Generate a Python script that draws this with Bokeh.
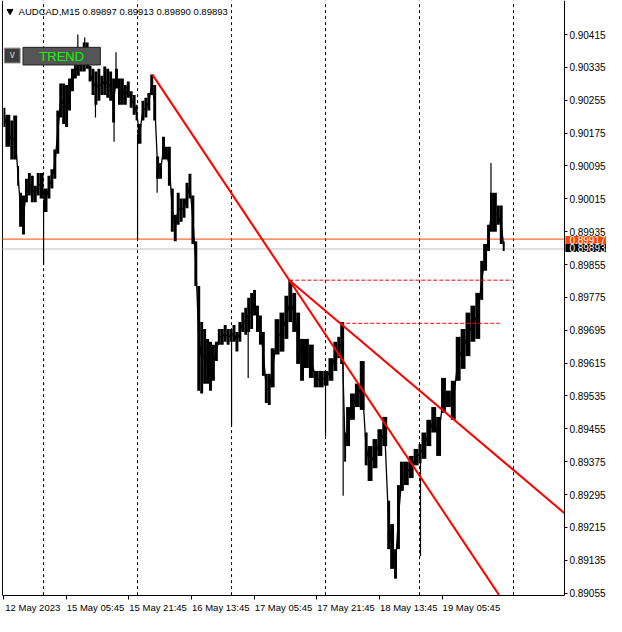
from bokeh.plotting import figure
from bokeh.models import Range1d, FixedTicker, Span, Label, ColumnDataSource, PrintfTickFormatter
from bokeh.embed import file_html
from bokeh.resources import INLINE
from bokeh.core.properties import value

# ---------------- data ----------------
symbol = "AUDCAD,M15"
last_ohlc = ["0.89897", "0.89913", "0.89890", "0.89893"]
ask_price = 0.89917
bid_price = 0.89893

# price range per small group of M15 bars (bar index 0 = 12 May 13:45)
bar_start = [
    0, 2, 7, 10, 14, 16, 19, 22, 25, 28,
    31, 34, 37, 41, 45, 48, 51, 54, 57, 60,
    63, 66, 69, 72, 75, 78, 81, 84, 87, 90,
    93, 96, 99, 102, 105, 108, 111, 114, 117, 120,
    123, 126, 129, 132, 135, 137, 141, 144, 147, 150,
    153, 156, 159, 162, 165, 168, 171, 174, 177, 180,
    183, 186, 189, 192, 195, 198, 201, 204, 207, 210,
    213, 216, 219, 222, 225, 228, 231, 234, 237, 240,
    243, 246, 249, 252, 255, 258, 261, 264, 267, 270,
    273, 277, 282, 287, 291, 295, 299, 303, 307, 312,
    317, 322, 327, 332, 337, 341, 344, 348, 350, 354,
    359, 364, 369, 372, 377, 382, 387, 392, 395, 399,
    402, 405, 409, 414, 419, 424, 427, 432, 437, 442,
    447, 452, 457, 462, 467, 472, 477, 482, 487, 490,
    494, 497, 500, 504, 507, 510,
]
last_bar = 512

bar_high = [
    0.90237, 0.90220, 0.90206, 0.90218, 0.90095, 0.90030, 0.90023, 0.90064, 0.90078, 0.90071,
    0.90047, 0.90078, 0.90078, 0.90040, 0.90071, 0.90087, 0.90135, 0.90230, 0.90296, 0.90296,
    0.90292, 0.90308, 0.90332, 0.90349, 0.90356, 0.90379, 0.90396, 0.90396, 0.90339, 0.90332,
    0.90325, 0.90332, 0.90315, 0.90337, 0.90332, 0.90325, 0.90308, 0.90332, 0.90308, 0.90308,
    0.90292, 0.90301, 0.90277, 0.90268, 0.90244, 0.90197, 0.90254, 0.90261, 0.90273, 0.90318,
    0.90292, 0.90118, 0.90102, 0.90166, 0.90142, 0.90142, 0.90040, 0.89976, 0.90030, 0.90016,
    0.90016, 0.90054, 0.90076, 0.90023, 0.89912, 0.89803, 0.89715, 0.89698, 0.89674, 0.89667,
    0.89660, 0.89667, 0.89698, 0.89698, 0.89708, 0.89698, 0.89698, 0.89708, 0.89691, 0.89715,
    0.89738, 0.89750, 0.89774, 0.89786, 0.89793, 0.89755, 0.89731, 0.89691, 0.89589, 0.89589,
    0.89651, 0.89722, 0.89738, 0.89779, 0.89817, 0.89786, 0.89738, 0.89674, 0.89674, 0.89660,
    0.89596, 0.89596, 0.89596, 0.89627, 0.89667, 0.89679, 0.89715, 0.89446, 0.89508, 0.89541,
    0.89565, 0.89620, 0.89446, 0.89413, 0.89430, 0.89454, 0.89484, 0.89280, 0.89223, 0.89162,
    0.89318, 0.89375, 0.89375, 0.89389, 0.89406, 0.89418, 0.89446, 0.89477, 0.89508, 0.89484,
    0.89579, 0.89548, 0.89572, 0.89679, 0.89698, 0.89738, 0.89755, 0.89786, 0.89864, 0.89905,
    0.89952, 0.90030, 0.90030, 0.89999, 0.89999, 0.89912,
]

bar_low = [
    0.90190, 0.90142, 0.90111, 0.90111, 0.90047, 0.89947, 0.89928, 0.90007, 0.90023, 0.90007,
    0.90007, 0.90023, 0.90016, 0.89983, 0.90016, 0.90040, 0.90064, 0.90125, 0.90213, 0.90197,
    0.90190, 0.90230, 0.90277, 0.90308, 0.90315, 0.90325, 0.90325, 0.90332, 0.90301, 0.90268,
    0.90244, 0.90254, 0.90268, 0.90268, 0.90261, 0.90254, 0.90201, 0.90284, 0.90244, 0.90244,
    0.90244, 0.90261, 0.90237, 0.90220, 0.90206, 0.90149, 0.90206, 0.90213, 0.90230, 0.90268,
    0.90206, 0.90064, 0.90064, 0.90111, 0.90111, 0.90047, 0.89935, 0.89912, 0.89952, 0.89959,
    0.89969, 0.89992, 0.90016, 0.89905, 0.89803, 0.89548, 0.89541, 0.89565, 0.89565, 0.89548,
    0.89572, 0.89620, 0.89660, 0.89660, 0.89667, 0.89660, 0.89667, 0.89667, 0.89643, 0.89667,
    0.89691, 0.89684, 0.89691, 0.89698, 0.89731, 0.89691, 0.89660, 0.89584, 0.89518, 0.89513,
    0.89556, 0.89636, 0.89643, 0.89674, 0.89715, 0.89691, 0.89613, 0.89572, 0.89603, 0.89579,
    0.89556, 0.89556, 0.89560, 0.89572, 0.89596, 0.89627, 0.89613, 0.89375, 0.89413, 0.89477,
    0.89508, 0.89501, 0.89366, 0.89328, 0.89359, 0.89389, 0.89413, 0.89162, 0.89114, 0.89090,
    0.89162, 0.89304, 0.89318, 0.89335, 0.89366, 0.89371, 0.89382, 0.89413, 0.89446, 0.89389,
    0.89494, 0.89508, 0.89477, 0.89572, 0.89601, 0.89632, 0.89667, 0.89674, 0.89769, 0.89840,
    0.89888, 0.89935, 0.89935, 0.89952, 0.89905, 0.89888,
]

# single long wicks
spike_bar = [41, 76, 83, 94, 113, 115, 137, 157, 233, 250, 329, 347, 426, 498]
spike_price = [0.89857, 0.90415, 0.90408, 0.90213, 0.90154, 0.90372, 0.89916, 0.90030,
               0.89463, 0.89579, 0.89437, 0.89292, 0.89145, 0.90102]

# day separators (bar index)
day_sep_bar = [41, 137, 233, 329, 425, 521]

time_tick_bar = [0, 64, 128, 192, 256, 320, 384, 448]
time_tick_label = ["12 May 2023", "15 May 05:45", "15 May 21:45", "16 May 13:45",
                   "17 May 05:45", "17 May 21:45", "18 May 13:45", "19 May 05:45"]

price_ticks = [0.90415, 0.90335, 0.90255, 0.90175, 0.90095, 0.90015, 0.89935, 0.89855,
               0.89775, 0.89695, 0.89615, 0.89535, 0.89455, 0.89375, 0.89295, 0.89215,
               0.89135, 0.89055]

# trend lines (two anchor points each, drawn as rays)
trend_a_bar = [152, 292]
trend_a_price = [0.90318, 0.89817]
trend_b_bar = [292, 344]
trend_b_price = [0.89817, 0.89712]

# dashed horizontal levels
level_start_bar = [292, 344]
level_end_bar = [520, 507]
level_price = [0.89817, 0.89712]

# ---------------- figure ----------------
# chart area: bars -1 .. 573, prices 0.89050 .. 0.90498; the price and time
# scales are drawn by fixed-location axes on the edges of that area
CX0, CX1 = -1, 573
CY0, CY1 = 0.89050, 0.90498
AXFONT = "Liberation Sans"

p = figure(width=606, height=616, output_backend="svg", toolbar_location=None,
           x_range=Range1d(-3, 616), y_range=Range1d(0.88998, CY1),
           y_axis_location="right", min_border=0)
p.background_fill_color = "white"
p.border_fill_color = "white"
p.outline_line_color = None
p.grid.visible = False

ax = p.yaxis[0]
ax.fixed_location = CX1
ax.bounds = (CY0, CY1)
ax.ticker = FixedTicker(ticks=price_ticks)
ax.formatter = PrintfTickFormatter(format="%.5f")
ax.major_tick_out = 3
ax.major_tick_in = 0
ax.minor_tick_out = 0
ax.minor_tick_in = 0
ax.major_label_standoff = 2
ax.axis_line_color = "black"
ax.major_tick_line_color = "black"
ax.major_label_text_font = AXFONT
ax.major_label_text_font_size = "10px"
ax.major_label_text_color = "black"

# bottom time scale: labels written just right of their tick marks
LABEL_SHIFT = 30  # bars between a tick mark and the centre of its label
bx = p.xaxis[0]
bx.fixed_location = CY0
bx.bounds = (CX0, CX1)
bx.ticker = FixedTicker(ticks=[b + LABEL_SHIFT for b in time_tick_bar],
                        minor_ticks=time_tick_bar)
bx.major_label_overrides = {b + LABEL_SHIFT: t for b, t in zip(time_tick_bar, time_tick_label)}
bx.major_tick_out = 0
bx.major_tick_in = 0
bx.minor_tick_out = 4
bx.minor_tick_in = 0
bx.minor_tick_line_color = "black"
bx.major_label_standoff = 3
bx.axis_line_color = "black"
bx.major_label_text_font = AXFONT
bx.major_label_text_font_size = "9.5px"
bx.major_label_text_color = "black"

# left frame edge and day separators
p.segment(x0=[CX0], y0=[CY0], x1=[CX0], y1=[CY1], line_color="black", line_width=1)
p.segment(x0=day_sep_bar, y0=[CY0] * len(day_sep_bar), x1=day_sep_bar,
          y1=[CY1] * len(day_sep_bar), line_color="black", line_dash="3 3", line_width=1)

# ask / bid lines
p.segment(x0=[CX0, CX0], y0=[ask_price, bid_price], x1=[CX1, CX1], y1=[ask_price, bid_price],
          line_color=["#FF4500", "#C0C0C0"], line_width=1)

# price bars
right = bar_start[1:] + [last_bar]
src = ColumnDataSource(dict(left=bar_start, right=right, top=bar_high, bottom=bar_low,
                            xm=[(a + b) / 2 for a, b in zip(bar_start, right)],
                            ym=[(h + l) / 2 for h, l in zip(bar_high, bar_low)]))
p.quad(left="left", right="right", top="top", bottom="bottom", source=src,
       fill_color="black", line_color=None)
p.line(x="xm", y="ym", source=src, line_color="black", line_width=1.3)

# wicks
sx0, sy0 = [], []
for b, pr in zip(spike_bar, spike_price):
    i = max(k for k, s in enumerate(bar_start) if s <= b)
    sy0.append((bar_high[i] + bar_low[i]) / 2)
    sx0.append(b)
p.segment(x0=sx0, y0=sy0, x1=spike_bar, y1=spike_price, line_color="black", line_width=1.2)

# dashed levels
p.segment(x0=level_start_bar, y0=level_price, x1=level_end_bar, y1=level_price,
          line_color="#FF0000", line_width=1, line_dash="4 2")

# trend rays, cut at the edges of the chart area
def ray(bars, prices):
    slope = (prices[1] - prices[0]) / (bars[1] - bars[0])
    x_end = CX1
    y_end = prices[0] + slope * (x_end - bars[0])
    if y_end < CY0:
        x_end = bars[0] + (CY0 - prices[0]) / slope
        y_end = CY0
    return [bars[0], x_end], [prices[0], y_end]

for bars, prices in ((trend_a_bar, trend_a_price), (trend_b_bar, trend_b_price)):
    xs, ys = ray(bars, prices)
    p.line(xs, ys, line_color="#FF0000", line_width=2)

# header text
p.scatter([6.7], [0.90472], marker="inverted_triangle", size=6, color="black")
p.text([15.5], [0.90472], text=[symbol + "  " + " ".join(last_ohlc)],
       text_font=value(AXFONT), text_font_size="9.5px", text_color="black",
       text_baseline="middle", text_align="left")

# buttons
p.quad(left=[1], right=[17], top=[0.90382], bottom=[0.90346],
       fill_color="#3c3c3c", line_color="#808080", line_width=1)
p.text([9], [0.90366], text=["v"], text_font=value(AXFONT), text_font_size="10px",
       text_color="#c8c8c8", text_align="center", text_baseline="middle")
p.quad(left=[20], right=[99], top=[0.90384], bottom=[0.90341],
       fill_color="#555555", line_color="#202020", line_width=1)
p.text([59.5], [0.903625], text=["TREND"], text_font=value(AXFONT), text_font_size="13px",
       text_color="#00FF00", text_align="center", text_baseline="middle")

# ask / bid boxes on the price scale
mid = (ask_price + bid_price) / 2
for txt, bg, base in (("0.89917", "#FF4500", "bottom"), ("0.89893", "black", "top")):
    p.add_layout(Label(x=CX1, y=mid, text=txt, x_offset=1, y_offset=0,
                       text_font=AXFONT, text_font_size="10px", text_color="white",
                       text_align="left", text_baseline=base,
                       background_fill_color=bg, padding=(4, 0)))

open("out.html", "w").write(file_html(p, INLINE))
